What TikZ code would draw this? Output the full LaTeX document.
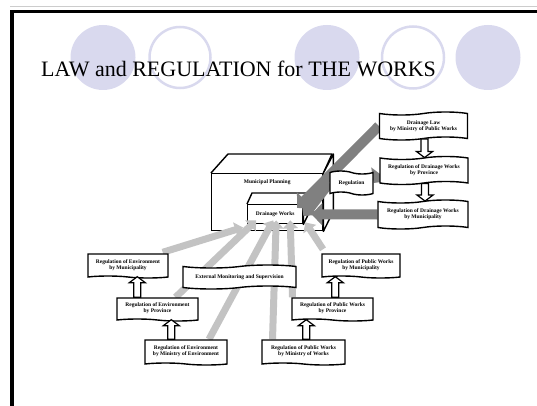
\documentclass[tikz,border=0pt]{standalone}
\usepackage{fontspec}
\setmainfont{Liberation Serif}
\usetikzlibrary{arrows.meta,shapes.symbols,calc,positioning}
\definecolor{lav}{HTML}{D9D9EE}
\definecolor{darkarrow}{HTML}{808080}
\definecolor{lightarrow}{HTML}{C3C3C3}
\pgfdeclarelayer{under}
\pgfdeclarelayer{links}
\pgfsetlayers{under,links,main}

% hollow vertical block arrow: shaft at x of #1, tip at y of #2, #3 = head base offset
\newcommand\vblock[3]{%
  \draw[blockarr] let \p1=(#1), \p2=(#2) in
    (\x1-3.5pt,\y1) -- (\x1-3.5pt,\y2#3) -- (\x1-8pt,\y2#3) -- (\x1,\y2)
    -- (\x1+8pt,\y2#3) -- (\x1+3.5pt,\y2#3) -- (\x1+3.5pt,\y1) -- cycle;}

\begin{document}
\begin{tikzpicture}[x=1pt,y=-1pt,
  boxtext/.style={font=\fontsize{5.5}{6}\selectfont\bfseries, align=center, text=black},
  docbox/.style={tape, draw, line width=1.4pt, fill=white, inner sep=0pt,
    tape bend top=none, tape bend bottom=out and in, tape bend height=2pt, boxtext},
  tapebox/.style={tape, draw, line width=1.4pt, fill=white, inner sep=0pt,
    tape bend height=3pt, boxtext},
  plainbox/.style={draw, line width=1.4pt, fill=white, inner sep=0pt, boxtext},
  darkarr/.style={draw=darkarrow, line width=10pt, -{Triangle[length=11pt,width=22pt]}},
  lightarr/.style={draw=lightarrow, line width=7pt, -{Triangle[length=8pt,width=15pt]}},
  blockarr/.style={draw, line width=1.2pt, fill=white},
]
\useasboundingbox (0,0) rectangle (537,406);

% slide frame and decorative circles
\draw[gray!40, line width=1pt] (10,6.5) -- (537,6.5);
\draw[line width=3.5pt] (12,406) -- (12,11.5) -- (537,11.5);
\fill[lav] (103,57.5) circle[radius=32.5];
\draw[lav, line width=2.5pt] (180,57.5) circle[radius=30.5];
\fill[lav] (327,57.5) circle[radius=32.5];
\draw[lav, line width=2.5pt] (413,57.5) circle[radius=31];
\fill[lav] (488,57.5) circle[radius=32.5];
\node[font=\fontsize{22}{24}\selectfont, anchor=base west, inner sep=0pt] (title) at (41,77)
  {LAW and REGULATION for THE WORKS};

% municipal box and the drainage works box inside it
\begin{pgfonlayer}{under}
\node[plainbox, minimum width=111pt, minimum height=57pt, anchor=north west] (muni) at (211,173) {};
\draw[line width=1.4pt, line join=round] (muni.north west) -- ++(17,-19) -- ++(104,0) -- (muni.north east);
\draw[line width=1.4pt, fill=white, line join=round] (muni.north east) -- ++(10,-19) -- ++(0,57) -- (muni.south east) -- cycle;
\node[boxtext, below=3pt of muni.north] (munilbl) {Municipal Planning};
\node[plainbox, minimum width=55pt, minimum height=19pt, anchor=north west] (works) at (247,204) {Drainage Works};
\draw[line width=1.4pt, line join=round] (works.north west) -- ++(5,-11) -- ++(56,0) -- (works.north east);
\draw[line width=1.4pt, fill=white, line join=round] (works.north east) -- ++(6,-11) -- ++(0,19) -- (works.south east) -- cycle;
\end{pgfonlayer}

% drainage regulations (right column)
\node[tapebox, minimum width=88pt, minimum height=28pt] (law) at (423.5,126)
  {Drainage Law\\by Ministry of Public Works};
\node[tapebox, minimum width=88pt, minimum height=28pt] (dprov) at (424,170.5)
  {Regulation of Drainage Works\\by Province};
\node[tapebox, minimum width=90pt, minimum height=29pt] (dmuni) at (423,214.5)
  {Regulation of Drainage Works\\by Municipality};
\node[tapebox, tape bend top=out and in, tape bend bottom=out and in, minimum width=43pt, minimum height=24pt] (reg) at (351.5,183) {Regulation};

% environment and public works regulations
\node[docbox, minimum width=80pt, minimum height=24pt] (envmuni) at (128,265)
  {Regulation of Environment\\by Municipality};
\node[docbox, minimum width=81pt, minimum height=23pt] (envprov) at (157.5,308.5)
  {Regulation of Environment\\by Province};
\node[docbox, minimum width=82pt, minimum height=25pt] (envmin) at (186,351.5)
  {Regulation of Environment\\by Ministry of Environment};
\node[tapebox, minimum width=113pt, minimum height=24pt] (ext) at (239.5,277)
  {External Monitoring and Supervision};
\node[docbox, minimum width=78pt, minimum height=24pt] (pwmuni) at (361,265)
  {Regulation of Public Works\\by Municipality};
\node[docbox, minimum width=81pt, minimum height=23pt] (pwprov) at (332.5,308.5)
  {Regulation of Public Works\\by Province};
\node[docbox, minimum width=83pt, minimum height=25pt] (pwmin) at (303.5,351.5)
  {Regulation of Public Works\\by Ministry of Works};

% connectors into the drainage works
\begin{pgfonlayer}{links}
\draw[darkarr] (law.west) -- ([xshift=22pt,yshift=-4pt]works.north);
\draw[darkarr, shorten <=-2pt] ([yshift=-5pt]dprov.west) -- (reg.east);
\draw[darkarr] (reg.west) -- ([yshift=-2pt]works.east);
\draw[darkarr] (dmuni.west) -- ([xshift=8pt]works.east);
\draw[lightarr] ([xshift=-6pt,yshift=1pt]envmuni.north east) -- ([xshift=-4pt,yshift=-3pt]works.south west);
\draw[lightarr] ([xshift=18pt]envprov.north) -- ([xshift=-19pt,yshift=4pt]works.south);
\draw[lightarr] ([xshift=23pt]envmin.north) -- ([xshift=-2pt,yshift=4pt]works.south);
\draw[lightarr] ([xshift=-31pt]pwmin.north) -- ([xshift=1pt,yshift=4pt]works.south);
\draw[lightarr] ([xshift=-40pt]pwprov.north) -- ([xshift=15pt,yshift=4pt]works.south);
\draw[lightarr] ([xshift=-38pt,yshift=4pt]pwmuni.north) -- ([xshift=2pt,yshift=2pt]works.south east);
\end{pgfonlayer}

% hierarchy arrows between regulation levels
\vblock{$(envprov.north west)+(21,0)$}{envmuni.south}{-6pt}
\vblock{$(envmin.north west)+(27,0)$}{envprov.south}{-6pt}
\vblock{$(pwprov.north west)+(44,0)$}{pwmuni.south}{-6pt}
\vblock{$(pwmin.north west)+(45,0)$}{pwprov.south}{-6pt}
\vblock{$(law.south)+(1,0)$}{dprov.north}{+6pt}
\vblock{$(dprov.south)+(1,0)$}{dmuni.north}{+6pt}
\end{tikzpicture}
\end{document}
